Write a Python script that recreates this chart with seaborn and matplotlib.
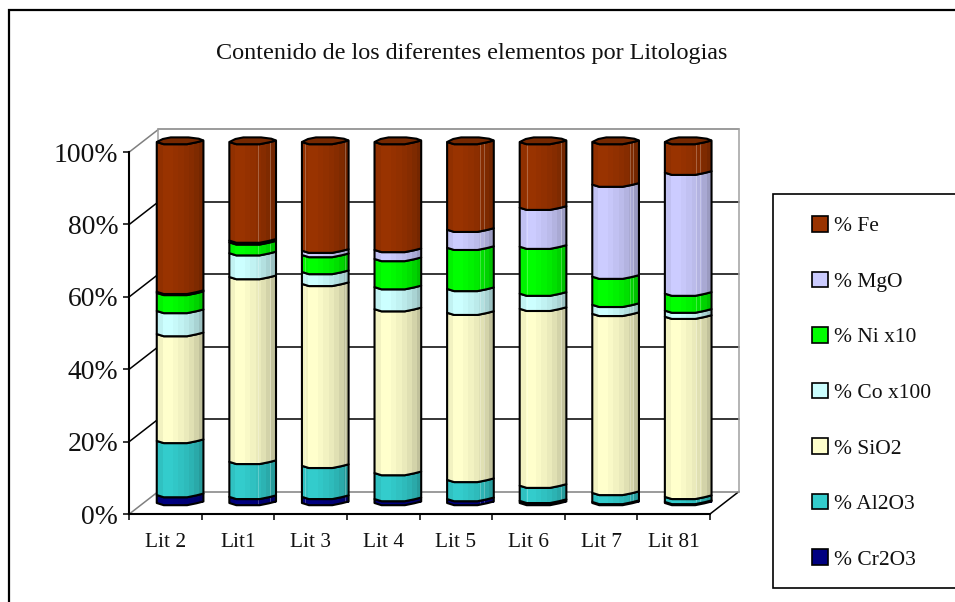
import numpy as np
import matplotlib
matplotlib.use("Agg")
import matplotlib.pyplot as plt
from matplotlib.patches import Polygon, Rectangle
import seaborn as sns

# ---- data (percent of each lithology) ----
categories = ["Lit 2", "Lit1", "Lit 3", "Lit 4", "Lit 5", "Lit 6", "Lit 7", "Lit 81"]
cr2o3 = [2.2, 1.7, 1.7, 1.1, 1.1, 0.6, 0.3, 0.3]
al2o3 = [15.0, 9.7, 8.6, 7.2, 5.3, 4.2, 2.5, 1.4]
sio2 = [29.6, 51.2, 50.4, 45.4, 46.3, 49.0, 49.6, 49.9]
co_x100 = [6.4, 6.6, 3.3, 6.1, 6.6, 4.2, 2.5, 1.7]
ni_x10 = [5.0, 3.0, 4.7, 7.8, 11.4, 13.0, 7.8, 4.7]
mgo = [0.3, 0.5, 1.2, 2.5, 5.0, 10.8, 25.5, 33.5]
fe = [41.5, 27.3, 30.1, 29.9, 24.3, 18.2, 11.8, 8.5]
series_names = ["% Cr2O3", "% Al2O3", "% SiO2", "% Co x100", "% Ni x10", "% MgO", "% Fe"]
series_values = [cr2o3, al2o3, sio2, co_x100, ni_x10, mgo, fe]
series_colors = ["#000080", "#33CCCC", "#FFFFCC", "#CCFFFF", "#00FF00", "#CCCCFF", "#993300"]
percent_ticks = [0, 20, 40, 60, 80, 100]
title_text = "Contenido de los diferentes elementos por Litologias"

sns.set_theme(style="white")
plt.rcParams["font.family"] = ["Liberation Serif", "DejaVu Serif"]

W, H = 955, 602
fig = plt.figure(figsize=(W / 100, H / 100), dpi=100, facecolor="white")


def px_axes(x0, x1, ytop, ybot, z):
    a = fig.add_axes([x0 / W, 1 - ybot / H, (x1 - x0) / W, (ybot - ytop) / H], zorder=z)
    a.patch.set_alpha(0)
    return a


LW = 1.1
# overlay in pixel coordinates: frame, legend box, wall diagonals
ov = fig.add_axes([0, 0, 1, 1], zorder=0)
ov.set_xlim(0, W)
ov.set_ylim(H, 0)
ov.axis("off")
ov.plot([9, 9, W], [H, 10, 10], color="black", lw=1.6, solid_joinstyle="miter")
ov.plot([W, 772.5, 772.5, W], [194, 194, 588, 588], color="black", lw=1.2, solid_joinstyle="miter")

# front plane and back wall geometry
FX0, FX1, FY100, FY0 = 129.3, 710.0, 152.0, 514.0
DX, DY = 29.0, 22.5
for t in percent_ticks:
    y = FY0 + (FY100 - FY0) * t / 100
    ov.plot([FX0, FX0 + DX], [y, y - DY], color="#808080" if t in (0, 100) else "black", lw=LW)
ov.plot([FX1, FX1 + DX], [FY0, FY0 - DY], color="black", lw=LW)

# back wall with the grid
wall = px_axes(FX0 + DX, FX1 + DX, FY100 - DY, FY0 - DY, 1)
wall.set_xlim(0, 1)
wall.set_ylim(0, 100)
wall.set_yticks(percent_ticks)
wall.set_xticks([])
wall.tick_params(left=False, labelleft=False)
wall.grid(axis="y", color="black", lw=LW)
wall.set_axisbelow(True)
for gl, t in zip(wall.get_ygridlines(), percent_ticks):
    gl.set_clip_on(False)
    if t in (0, 100):
        gl.set_color("#808080")
for s in ("top", "bottom"):
    wall.spines[s].set_visible(False)
for s in ("left", "right"):
    wall.spines[s].set_color("#a0a0a0")
    wall.spines[s].set_linewidth(LW)

# front axes carrying the axis lines and labels
front = px_axes(FX0, FX1, FY100, FY0, 2)
front.set_xlim(-0.5, len(categories) - 0.5)
front.set_ylim(0, 100)
sns.despine(ax=front)
for s in ("left", "bottom"):
    front.spines[s].set_color("black")
    front.spines[s].set_linewidth(1.5)
front.set_yticks(percent_ticks)
front.set_yticklabels([f"{t}%" for t in percent_ticks], fontsize=19.9)
front.tick_params(axis="y", left=True, length=4, width=1.1, color="black", pad=4, labelcolor="#111111")
front.set_xticks(np.arange(len(categories)))
front.set_xticklabels(categories, fontsize=15.4)
front.tick_params(axis="x", which="major", bottom=False, pad=8, labelcolor="#111111")
front.set_xticks(np.arange(len(categories) + 1) - 0.5, minor=True)
front.tick_params(axis="x", which="minor", bottom=True, length=4, width=1.1, color="black")

# cylinders sit half a depth behind the front plane
bars = px_axes(FX0 + 14.5, FX1 + 14.5, 142.0, 503.0, 3)
bottom = np.zeros(len(categories))
containers = []
for name, vals, col in zip(series_names, series_values, series_colors):
    sns.barplot(x=categories, y=vals, bottom=bottom, color=col, saturation=1, width=0.643,
                ax=bars, label=name, legend=False, linewidth=0)
    containers.append(bars.containers[-1])
    bottom = bottom + np.array(vals)
bars.set_xlim(-0.5, len(categories) - 0.5)
bars.set_ylim(0, 100)
bars.axis("off")

PX = 100 / 361.0  # data units per pixel
seam_u = np.array([0, 0.15, 0.65, 0.85, 1.0])
seam_d = np.array([0, 2.2, 2.2, 0.3, -1.5]) * PX
cap_u = np.array([1.0, 0.9, 0.68, 0.3, 0.13, 0.0])
cap_d = np.array([-1.5, -3.3, -4.6, -4.6, -3.0, 0.0]) * PX
bands = np.array([0.95, 1.0, 1.0, 0.98, 0.95, 0.92, 0.88, 0.83, 0.76])
band_idx = np.minimum((np.arange(47) / 47 * len(bands)).astype(int), len(bands) - 1)
shade = bands[band_idx]
bar_glints = [[], [0.64, 0.9], [0.07, 0.94], [], [0.72, 0.82], [0.16, 0.9], [0.84, 0.9], [0.68, 0.78]]
CAP = "#752800"
EDGE = 1.5

for sidx, (cont, col) in enumerate(zip(containers, series_colors)):
    rgb = np.array(matplotlib.colors.to_rgb(col))
    for bidx, rect in enumerate(cont.patches):
        x0, w = rect.get_x(), rect.get_width()
        y0, h = rect.get_y(), rect.get_height()
        lower = np.column_stack([x0 + w * seam_u, y0 - seam_d])
        upper = np.column_stack([x0 + w * seam_u, y0 + h - seam_d])[::-1]
        poly = Polygon(np.vstack([lower, upper]), closed=True, facecolor="none", edgecolor="black",
                       lw=EDGE, zorder=5 + sidx, clip_on=False, joinstyle="round")
        bars.add_patch(poly)
        m = shade.copy()
        img = np.outer(m, rgb)
        for g in bar_glints[bidx]:
            k = int(g * (len(m) - 1))
            img[k] = np.minimum(1, img[k] * 0.75 + 0.25)
        im = bars.imshow(img[None, :, :], extent=(x0, x0 + w, -5, 105), aspect="auto",
                         interpolation="nearest", zorder=4 + sidx, origin="lower")
        im.set_clip_box(fig.bbox)
        im.set_clip_path(poly)
        if sidx == len(containers) - 1:
            cap_top = np.column_stack([x0 + w * cap_u, y0 + h - cap_d])
            front_arc = np.column_stack([x0 + w * seam_u, y0 + h - seam_d])
            bars.add_patch(Polygon(np.vstack([front_arc, cap_top[1:-1]]), closed=True, facecolor=CAP,
                                   edgecolor="black", lw=EDGE, zorder=20, clip_on=False))
bars.set_xlim(-0.5, len(categories) - 0.5)
bars.set_ylim(0, 100)

# legend, top entry first
handles = [Rectangle((0, 0), 1, 1, facecolor=c, edgecolor="black", lw=1.2) for c in series_colors[::-1]]
leg = bars.legend(handles, series_names[::-1], loc="upper left",
                  bbox_to_anchor=(812 / W, 1 - 216 / H), bbox_transform=fig.transFigure,
                  frameon=False, fontsize=15.5, borderpad=0, borderaxespad=0,
                  handlelength=0.74, handleheight=0.74, handletextpad=0.3, labelspacing=1.637)
for t in leg.get_texts():
    t.set_color("#111111")
leg.set_zorder(30)

fig.text(472 / W, 1 - 53 / H, title_text, ha="center", va="center", fontsize=17.35, color="#111111")

fig.savefig("out.png", dpi=100, facecolor="white")
